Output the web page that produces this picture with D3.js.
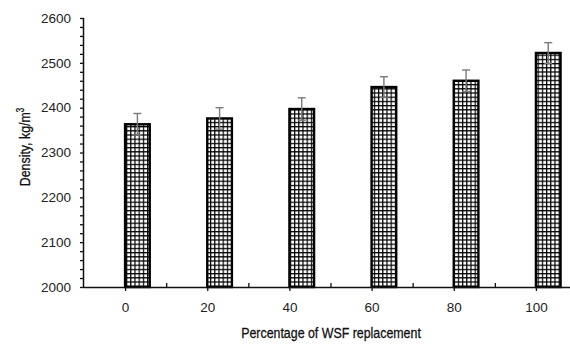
<!DOCTYPE html>
<html>
<head>
<meta charset="utf-8">
<script src="https://cdn.jsdelivr.net/npm/d3@7"></script>
<style>
  body { margin: 0; background: #fff; }
  .tick text { font-family: "Liberation Sans", Arial, sans-serif; font-size: 13.5px; fill: #222; }
  .title { font-family: "Liberation Sans", Arial, sans-serif; font-size: 15.5px; fill: #111; stroke: #111; stroke-width: 0.3; }
</style>
</head>
<body>
<div class="chart"></div>
<script>
const categories = [0, 20, 40, 60, 80, 100]
const density = [2363, 2376, 2397, 2446, 2460, 2522]
const errors = [24, 24, 25, 23, 24, 23]
const yTicks = [2000, 2100, 2200, 2300, 2400, 2500, 2600]

const width = 570, height = 344

const svg = d3.select(".chart").append("svg")
    .attr("width", width)
    .attr("height", height)

// grid fill for the bars
const pat = svg.append("defs").append("pattern")
    .attr("id", "grid")
    .attr("patternUnits", "userSpaceOnUse")
    .attr("width", 4.2)
    .attr("height", 4.2)
pat.append("rect").attr("width", 4.2).attr("height", 4.2).attr("fill", "#fff")
pat.append("path")
    .attr("d", "M0,0.6H4.2M0.6,0V4.2")
    .attr("stroke", "#000")
    .attr("stroke-width", 1.2)

const xScale = d3.scaleLinear()
    .domain([-10, 110])
    .range([84, 577])

const yScale = d3.scaleLinear()
    .domain([2000, 2600])
    .range([287, 18])

// y axis: majors with labels, minors every 20
const yAxis = d3.axisLeft(yScale)
    .tickValues(yTicks)
    .tickSize(4)
    .tickPadding(9)
    .tickFormat(d3.format("d"))

const yMinor = d3.axisLeft(yScale)
    .tickValues(d3.range(2020, 2600, 20).filter(v => v % 100 !== 0))
    .tickSize(4)
    .tickFormat("")

svg.append("g")
    .attr("class", "axis y-axis")
    .attr("transform", `translate(${xScale(-10)},0)`)
    .call(yMinor)
    .call(g => g.select(".domain").remove())

svg.append("g")
    .attr("class", "axis y-axis")
    .attr("transform", `translate(${xScale(-10)},0)`)
    .call(yAxis)
    .call(g => g.select(".domain").attr("d", `M-0.5,${yScale(2600)}V${yScale(2000)}`).attr("stroke", "#111").attr("stroke-width", 1.5))

// bars
const barW = xScale(6) - xScale(0)

svg.selectAll(".bar")
    .data(categories)
    .enter()
    .append("rect")
    .attr("class", "bar")
    .attr("x", d => xScale(d))
    .attr("y", (d, i) => yScale(density[i]))
    .attr("width", barW)
    .attr("height", (d, i) => yScale(2000) - yScale(density[i]))
    .attr("fill", "url(#grid)")
    .attr("stroke", "#000")
    .attr("stroke-width", 2.4)

// error bars
const err = svg.selectAll(".err")
    .data(categories)
    .enter()
    .append("g")
    .attr("class", "err")
    .attr("stroke", "#7a7a7a")
    .attr("stroke-width", 1.4)

err.append("line")
    .attr("x1", d => xScale(d) + barW / 2)
    .attr("x2", d => xScale(d) + barW / 2)
    .attr("y1", (d, i) => yScale(density[i] + errors[i]))
    .attr("y2", (d, i) => yScale(density[i] - errors[i]))

err.selectAll(".cap")
    .data((d, i) => [[d, density[i] + errors[i]], [d, density[i] - errors[i]]])
    .enter()
    .append("line")
    .attr("x1", d => xScale(d[0]) + barW / 2 - 4)
    .attr("x2", d => xScale(d[0]) + barW / 2 + 4)
    .attr("y1", d => yScale(d[1]))
    .attr("y2", d => yScale(d[1]))

// x axis: major ticks down with labels, minor ticks up
const xAxis = d3.axisBottom(xScale)
    .tickValues(categories)
    .tickSize(4)
    .tickPadding(11)
    .tickFormat(d3.format("d"))

const xMinor = d3.axisTop(xScale)
    .tickValues(d3.range(10, 120, 20))
    .tickSize(4)
    .tickFormat("")

svg.append("g")
    .attr("class", "axis x-axis")
    .attr("transform", `translate(0,${yScale(2000)})`)
    .call(xAxis)
    .call(g => g.select(".domain").attr("d", `M${xScale(-10)},0.5H${width}`).attr("stroke", "#111").attr("stroke-width", 1.5))

svg.append("g")
    .attr("class", "axis x-axis")
    .attr("transform", `translate(0,${yScale(2000)})`)
    .call(xMinor)
    .call(g => g.select(".domain").remove())

svg.selectAll(".tick line").attr("stroke", "#111").attr("stroke-width", 1.3)

// titles, squeezed horizontally to mimic a narrow face
svg.append("text")
    .attr("class", "title")
    .attr("text-anchor", "middle")
    .attr("transform", "translate(331,338) scale(0.8,1)")
    .text("Percentage of WSF replacement")

const yt = svg.append("text")
    .attr("class", "title")
    .attr("text-anchor", "middle")
    .attr("transform", "translate(30,147) rotate(-90) scale(0.8,1)")
yt.append("tspan").text("Density, kg/m")
yt.append("tspan").attr("dy", -6).attr("font-size", 10).text("3")
</script>
</body>
</html>
